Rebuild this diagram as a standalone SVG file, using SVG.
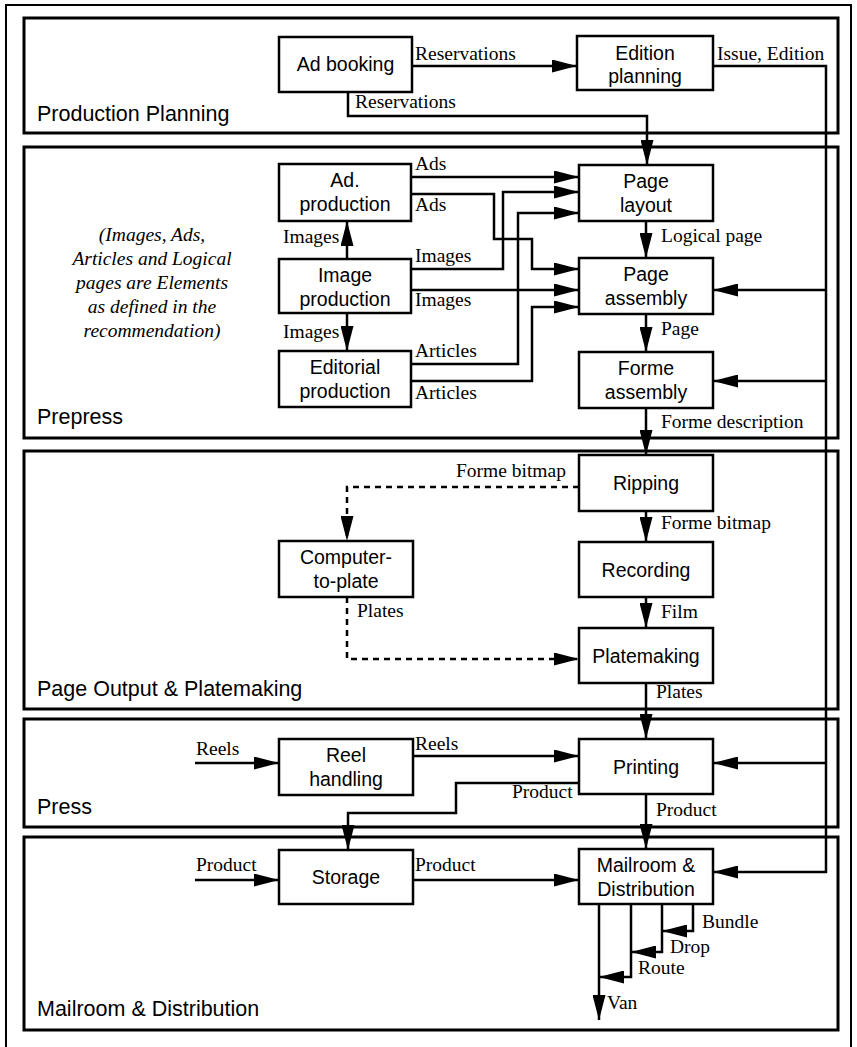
<svg xmlns="http://www.w3.org/2000/svg" width="857" height="1047" viewBox="0 0 857 1047">
<style>
.sec{fill:none;stroke:#000;stroke-width:3}
.node rect{fill:#fff;stroke:#000;stroke-width:2.5}
.nt{font-family:"Liberation Sans",Arial,sans-serif;font-size:19.5px;text-anchor:middle;fill:#000}
.st{font-family:"Liberation Sans",Arial,sans-serif;font-size:21.5px;fill:#000}
.lb{font-family:"Liberation Serif","Times New Roman",serif;font-size:19.5px;fill:#000}
.it{font-family:"Liberation Serif","Times New Roman",serif;font-size:19.5px;font-style:italic;text-anchor:middle;fill:#000}
.c{fill:none;stroke:#000;stroke-width:2.5}
.a{marker-end:url(#ah)}
.d{stroke-dasharray:6 5}
</style>
<defs>
<marker id="ah" markerUnits="userSpaceOnUse" markerWidth="25" markerHeight="13" refX="25" refY="6.5" orient="auto">
<path d="M0,0 L25,6.5 L0,13 z" fill="#000"/>
</marker>
</defs>
<rect width="857" height="1047" fill="#fff"/>
<path d="M6,1047 V5 H851 V1047" fill="none" stroke="#000" stroke-width="2"/>

<g id="sections">
<rect class="sec" x="24" y="18" width="814" height="115"/>
<text class="st" x="37" y="121">Production Planning</text>
<rect class="sec" x="24" y="147" width="814" height="291"/>
<text class="st" x="37" y="424">Prepress</text>
<rect class="sec" x="24" y="451" width="814" height="258"/>
<text class="st" x="37" y="696">Page Output &amp; Platemaking</text>
<rect class="sec" x="24" y="719" width="814" height="108"/>
<text class="st" x="37" y="814">Press</text>
<rect class="sec" x="24" y="837" width="814" height="193"/>
<text class="st" x="37" y="1016">Mailroom &amp; Distribution</text>
</g>

<g id="note">
<text class="it" x="152" y="241">(Images, Ads,</text>
<text class="it" x="152" y="265">Articles and Logical</text>
<text class="it" x="152" y="289">pages are Elements</text>
<text class="it" x="152" y="313">as defined in the</text>
<text class="it" x="152" y="337">recommendation)</text>
</g>

<g id="connectors">
<path class="c a" d="M412,66 H577"/>
<path class="c a" d="M348,92 V116 H647 V165"/>
<path class="c a" d="M713,66 H826 V872 H713"/>
<path class="c a" d="M826,290 H713"/>
<path class="c a" d="M826,381 H713"/>
<path class="c a" d="M826,763 H713"/>
<path class="c a" d="M411,177 H579"/>
<path class="c a" d="M411,194 H494 V239 H532 V269 H579"/>
<path class="c a" d="M411,269 H503 V192 H579"/>
<path class="c a" d="M411,290 H579"/>
<path class="c a" d="M411,364 H518 V213 H579"/>
<path class="c a" d="M411,381 H532 V307 H579"/>
<path class="c a" d="M347,259 V221"/>
<path class="c a" d="M347,313 V351"/>
<path class="c a" d="M646,221 V258"/>
<path class="c a" d="M646,314 V352"/>
<path class="c a" d="M646,408 V455"/>
<path class="c a" d="M646,511 V542"/>
<path class="c a" d="M646,597 V628"/>
<path class="c a d" d="M579,487 H347 V541"/>
<path class="c a d" d="M347,597 V659 H579"/>
<path class="c a" d="M646,683 V739"/>
<path class="c a" d="M195,763 H279"/>
<path class="c a" d="M413,756 H579"/>
<path class="c a" d="M579,783 H456 V813 H348 V850"/>
<path class="c a" d="M646,794 V849"/>
<path class="c a" d="M195,880 H279"/>
<path class="c a" d="M413,880 H579"/>
<path class="c a" d="M693,904 V931 H662"/>
<path class="c a" d="M662,904 V952 H631"/>
<path class="c a" d="M631,904 V977 H599"/>
<path class="c a" d="M599,904 V1020"/>

<text class="lb" x="415" y="60">Reservations</text>
<text class="lb" x="717" y="60">Issue, Edition</text>
<text class="lb" x="355" y="108">Reservations</text>
<text class="lb" x="415" y="170">Ads</text>
<text class="lb" x="415" y="211">Ads</text>
<text class="lb" x="415" y="262">Images</text>
<text class="lb" x="415" y="306">Images</text>
<text class="lb" x="415" y="357">Articles</text>
<text class="lb" x="415" y="399">Articles</text>
<text class="lb" x="283" y="243">Images</text>
<text class="lb" x="283" y="338">Images</text>
<text class="lb" x="661" y="242">Logical page</text>
<text class="lb" x="661" y="335">Page</text>
<text class="lb" x="661" y="428">Forme description</text>
<text class="lb" x="456" y="477">Forme bitmap</text>
<text class="lb" x="661" y="529">Forme bitmap</text>
<text class="lb" x="357" y="617">Plates</text>
<text class="lb" x="661" y="618">Film</text>
<text class="lb" x="656" y="698">Plates</text>
<text class="lb" x="196" y="755">Reels</text>
<text class="lb" x="415" y="750">Reels</text>
<text class="lb" x="512" y="798">Product</text>
<text class="lb" x="656" y="816">Product</text>
<text class="lb" x="196" y="871">Product</text>
<text class="lb" x="415" y="871">Product</text>
<text class="lb" x="702" y="928">Bundle</text>
<text class="lb" x="670" y="953">Drop</text>
<text class="lb" x="638" y="974">Route</text>
<text class="lb" x="607" y="1009">Van</text>
</g>

<g id="ad-booking" class="node"><rect x="279" y="37" width="133" height="55"/><text class="nt" x="345.5" y="71">Ad booking</text></g>
<g id="edition-planning" class="node"><rect x="577" y="36" width="136" height="54"/><text class="nt" x="645" y="59.5">Edition</text><text class="nt" x="645" y="83">planning</text></g>
<g id="ad-production" class="node"><rect x="279" y="164" width="132" height="57"/><text class="nt" x="345" y="187">Ad.</text><text class="nt" x="345" y="211">production</text></g>
<g id="image-production" class="node"><rect x="279" y="259" width="132" height="54"/><text class="nt" x="345" y="282">Image</text><text class="nt" x="345" y="306">production</text></g>
<g id="editorial-production" class="node"><rect x="279" y="351" width="132" height="56"/><text class="nt" x="345" y="374">Editorial</text><text class="nt" x="345" y="398">production</text></g>
<g id="page-layout" class="node"><rect x="579" y="165" width="134" height="56"/><text class="nt" x="646" y="188">Page</text><text class="nt" x="646" y="212">layout</text></g>
<g id="page-assembly" class="node"><rect x="579" y="258" width="134" height="56"/><text class="nt" x="646" y="281">Page</text><text class="nt" x="646" y="305">assembly</text></g>
<g id="forme-assembly" class="node"><rect x="579" y="352" width="134" height="56"/><text class="nt" x="646" y="375">Forme</text><text class="nt" x="646" y="399">assembly</text></g>
<g id="ripping" class="node"><rect x="579" y="455" width="134" height="56"/><text class="nt" x="646" y="490">Ripping</text></g>
<g id="recording" class="node"><rect x="579" y="542" width="134" height="55"/><text class="nt" x="646" y="577">Recording</text></g>
<g id="computer-to-plate" class="node"><rect x="279" y="541" width="134" height="56"/><text class="nt" x="346" y="564">Computer-</text><text class="nt" x="346" y="588">to-plate</text></g>
<g id="platemaking" class="node"><rect x="579" y="628" width="134" height="55"/><text class="nt" x="646" y="663">Platemaking</text></g>
<g id="reel-handling" class="node"><rect x="279" y="739" width="134" height="56"/><text class="nt" x="346" y="762">Reel</text><text class="nt" x="346" y="786">handling</text></g>
<g id="printing" class="node"><rect x="579" y="739" width="134" height="55"/><text class="nt" x="646" y="774">Printing</text></g>
<g id="storage" class="node"><rect x="279" y="850" width="134" height="54"/><text class="nt" x="346" y="884">Storage</text></g>
<g id="mailroom" class="node"><rect x="579" y="849" width="134" height="55"/><text class="nt" x="646" y="872">Mailroom &amp;</text><text class="nt" x="646" y="896">Distribution</text></g>
</svg>
